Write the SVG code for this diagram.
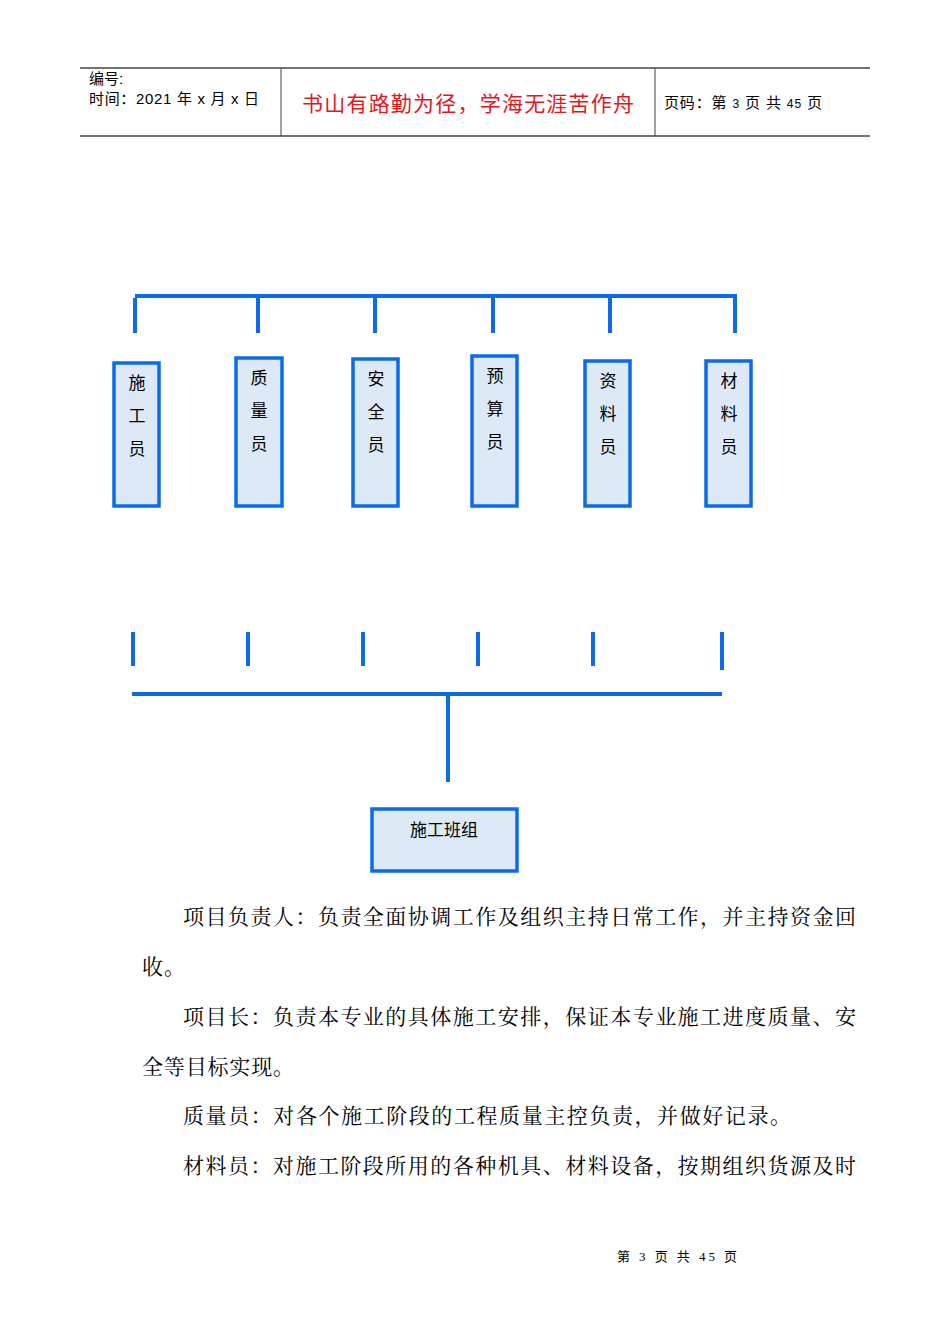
<svg xmlns="http://www.w3.org/2000/svg" width="950" height="1344" viewBox="0 0 950 1344">
<style>
.h{font-family:"Liberation Sans","Noto Sans CJK SC",sans-serif;font-size:15px;fill:#000}
.b{font-family:"Liberation Serif","Noto Serif CJK SC","Noto Sans CJK SC",serif;font-size:21px;fill:#000}
.n{font-family:"Liberation Serif","Noto Sans CJK SC",serif;font-size:17px;fill:#000;text-anchor:middle}
.box{fill:#dde9f6;stroke:#0a6ce8;stroke-width:3.5}
.c{stroke:#0a6ce8;stroke-width:4;fill:none}
</style>
<g id="header">
<line x1="80" y1="68" x2="870" y2="68" stroke="#444" stroke-width="1.5"/>
<line x1="80" y1="136" x2="870" y2="136" stroke="#444" stroke-width="1.5"/>
<line x1="281" y1="68" x2="281" y2="136" stroke="#444"/>
<line x1="655" y1="68" x2="655" y2="136" stroke="#444"/>
<text class="h" x="89" y="84">编号:</text>
<text class="h" x="89" y="104" textLength="170">时间：2021 年 x 月 x 日</text>
<text x="302" y="111" textLength="332" font-family="Liberation Sans,'Noto Sans CJK SC',sans-serif" font-size="21" fill="#e8141c">书山有路勤为径，学海无涯苦作舟</text>
<text class="h" x="664" y="108" textLength="158">页码：第 <tspan font-size="12">3</tspan> 页  共 <tspan font-size="12">45</tspan> 页</text>
</g>
<g id="connectors">
<path class="c" d="M135 296H737M135 298V333M258 298V333M375 298V333M493 298V333M610 298V333M735 298V333"/>
<path class="c" d="M133 632V666M248 632V666M363 632V666M478 632V666M593 632V666M722 632V670M132 694H722M448 694V782"/>
</g>
<g id="n1"><rect class="box" x="114" y="363" width="45" height="143"/><text class="n" x="137" y="389">施</text><text class="n" x="137" y="422">工</text><text class="n" x="137" y="455">员</text></g>
<g id="n2"><rect class="box" x="236" y="358" width="46" height="148"/><text class="n" x="259" y="384">质</text><text class="n" x="259" y="417">量</text><text class="n" x="259" y="450">员</text></g>
<g id="n3"><rect class="box" x="353" y="359" width="45" height="147"/><text class="n" x="376" y="385">安</text><text class="n" x="376" y="418">全</text><text class="n" x="376" y="451">员</text></g>
<g id="n4"><rect class="box" x="472" y="356" width="45" height="150"/><text class="n" x="495" y="382">预</text><text class="n" x="495" y="415">算</text><text class="n" x="495" y="448">员</text></g>
<g id="n5"><rect class="box" x="585" y="361" width="45" height="145"/><text class="n" x="608" y="387">资</text><text class="n" x="608" y="420">料</text><text class="n" x="608" y="453">员</text></g>
<g id="n6"><rect class="box" x="706" y="361" width="45" height="145"/><text class="n" x="729" y="387">材</text><text class="n" x="729" y="420">料</text><text class="n" x="729" y="453">员</text></g>
<g id="n7"><rect class="box" x="372" y="809" width="145" height="62"/><text class="n" x="444" y="836">施工班组</text></g>
<g id="body">
<text class="b" x="183" y="924" textLength="673">项目负责人：负责全面协调工作及组织主持日常工作，并主持资金回</text>
<text class="b" x="142" y="974" textLength="43">收。</text>
<text class="b" x="183" y="1024" textLength="673">项目长：负责本专业的具体施工安排，保证本专业施工进度质量、安</text>
<text class="b" x="142" y="1074" textLength="152">全等目标实现。</text>
<text class="b" x="183" y="1123" textLength="608">质量员：对各个施工阶段的工程质量主控负责，并做好记录。</text>
<text class="b" x="183" y="1173" textLength="673">材料员：对施工阶段所用的各种机具、材料设备，按期组织货源及时</text>
<text x="617" y="1261" textLength="120" font-family="Liberation Serif,'Noto Sans CJK SC',serif" font-size="13">第  3  页  共 45 页</text>
</g>
</svg>
